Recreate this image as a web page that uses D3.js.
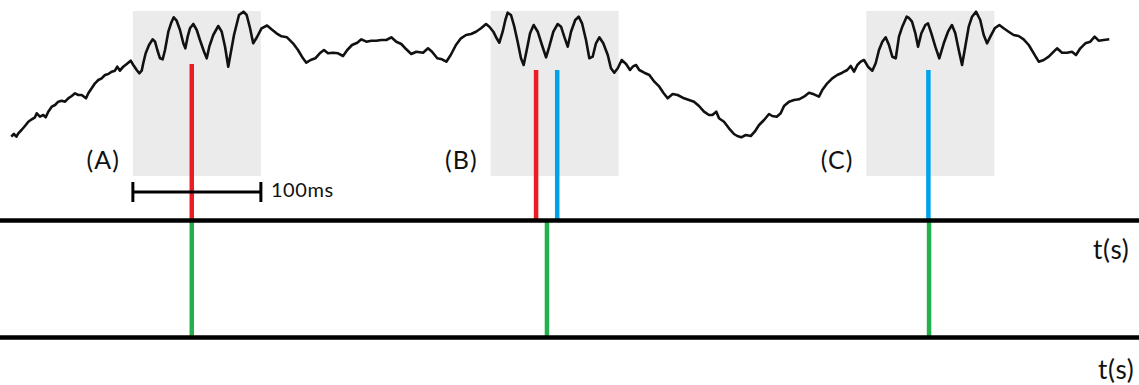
<!DOCTYPE html>
<html>
<head>
<meta charset="utf-8">
<script src="https://cdn.jsdelivr.net/npm/d3@7"></script>
<style>
  body { margin: 0; background: #fff; }
  svg { display: block; }
  text { font-family: Lato, "Open Sans", sans-serif; fill: #111; }
</style>
</head>
<body>
<div id="chart"></div>
<script>
// signal trace: time (ms) and amplitude (arbitrary units)
const times = [1, 3, 5, 6.5, 9, 11.7, 14.3, 17, 19.5, 20.9, 23.4, 26, 27.9, 29.9, 32.6, 35.2, 37.7, 40.4, 43, 45.5,
  48.2, 50.8, 53.4, 56, 59.4, 61.2, 63.8, 66.4, 69, 71.6, 74.2, 76.8, 79.5, 82, 83.8, 85.9, 88.5, 91.2, 94.3, 96.3,
  99, 101, 102.9, 104.1, 106, 108.6, 111.5, 113.3, 115.1, 117.2, 119.3, 121.1, 123.7, 125.8, 127.9, 130.2, 132.8, 135.4, 137, 138.8,
  140.6, 143.2, 145.9, 148.4, 151.6, 153.7, 155.7, 158.8, 162.7, 165.4, 168, 170.5, 175, 178.9, 182.4, 184.9, 187.5, 190, 192.8, 196.5,
  200.8, 204.3, 208.2, 212.1, 216.4, 221.1, 225, 228.9, 231.5, 234.9, 238.5, 242, 245.3, 248.4, 252.3, 256.3, 260.2, 263.5, 267.2, 271.3,
  274.5, 278.4, 282.3, 286.2, 290.1, 294, 297.9, 301.8, 305.7, 309.6, 313.5, 317.4, 322.7, 326.6, 329.7, 333.8, 337.5, 340.9, 344.3, 348.4,
  352.3, 356.3, 360.2, 364.1, 368, 371.9, 374.5, 377.6, 380.2, 382.3, 384.9, 387, 388.8, 391.4, 394, 396.6, 399.2, 401.3, 403.7, 406.3,
  409.1, 412.3, 415.6, 418.8, 421.3, 424.5, 427.9, 430.5, 433, 435.7, 438.3, 441.6, 444.3, 446.9, 450, 452.6, 455.2, 457.8, 460.4, 463.5,
  467, 469.5, 472.1, 474.8, 477.9, 481.3, 484.4, 486.5, 489.1, 491.6, 495.5, 499.5, 503.4, 507.3, 510.4, 513.8, 517.7, 521.6, 526.6, 530.5,
  534.4, 538.3, 542.2, 546.1, 548.7, 551.8, 553.9, 557.8, 561.7, 565.6, 568.2, 571.3, 574.8, 578.7, 581.8, 585.2, 589.1, 593, 595.5, 599,
  602.1, 604.7, 608.6, 612.5, 616.4, 620.3, 624.2, 628.1, 632, 634.6, 638.5, 642.4, 646.3, 650.2, 654.1, 656.8, 659.4, 662, 664.6, 667.2,
  670.3, 673.7, 676.3, 678.9, 681.5, 684.1, 686.7, 689.3, 692, 694.5, 697.1, 700.5, 702.3, 704.7, 707.3, 709.4, 712, 715.1, 717.2, 719.8,
  722.9, 726, 729.5, 732.8, 735.9, 738.5, 741.2, 743.8, 746.3, 749, 751.6, 754.7, 758, 760.7, 763.3, 765.9, 769.3, 772.9, 776.3, 780.2,
  784.1, 788, 791.9, 795.9, 799.8, 803.7, 807.6, 811.5, 815.4, 818, 821.9, 825.8, 829.7, 832.8, 836.2, 840.1, 844, 847.4, 850.5, 854.5, 858.8];
const amps = [13.3, 16, 13.3, 16.7, 20, 24, 28.3, 30.7, 32.7, 36.7, 33.3, 35, 32.7, 38.3, 43.3, 45, 48.3, 49.3, 48.3, 51.7,
  54, 56.7, 55, 55, 51.7, 56.7, 61.7, 66.7, 70, 71.7, 75, 76, 78.3, 79.3, 83.3, 79.3, 83.3, 86, 89.3, 85,
  80, 76.7, 79.3, 86.7, 96.7, 105, 110.7, 108.3, 100, 91.7, 90.7, 100, 118.3, 126.7, 132.7, 129.3, 120, 106.7, 101.7, 113.3,
  121.7, 126, 120, 110, 98.3, 91.7, 103.3, 115, 124, 118.3, 103.3, 83.3, 115, 135, 138.3, 135, 122, 106.7, 112.5, 121.7,
  124.5, 120.7, 116.7, 113.7, 112.7, 106.7, 100, 91.7, 87.3, 90, 91.7, 96.7, 100, 96.7, 97.3, 96.7, 94, 100, 105, 107.3,
  110.7, 108.3, 109.3, 109.3, 110, 110, 112.7, 108.3, 106, 100.7, 96, 98.3, 97.3, 101.7, 98.3, 91.7, 90.7, 88.3, 95, 105,
  111.7, 115, 116, 118.3, 121.7, 126, 123.3, 118.3, 111.7, 107.3, 118.3, 130, 137.3, 135, 123.3, 108.3, 91.7, 85, 100, 116.7,
  125, 118.3, 105, 92.7, 103.3, 118.3, 126, 123.3, 113.3, 103.3, 118.3, 130, 133.3, 126.7, 110, 91.7, 93.3, 106.7, 112.7, 106.7,
  95, 81.7, 77.3, 81.7, 90, 86, 80, 83.3, 85, 80, 77.3, 75, 68.3, 63.3, 57.3, 51.7, 56, 55, 51.7, 50,
  48.3, 44, 38.3, 35, 35, 38.3, 31.7, 28.3, 21.7, 16, 14, 12.7, 15, 14, 18.3, 25, 30, 36, 34, 33.3,
  36.7, 44, 48.3, 50, 50.7, 53.3, 57.3, 55.7, 53.3, 60, 66.7, 71.7, 75, 77.3, 80, 84, 78.3, 85, 88.3, 90,
  83.3, 79.3, 86.7, 100, 108.3, 112.7, 105, 93.3, 91.7, 113.3, 123.3, 133.3, 132, 128.3, 116.7, 103.3, 116.7, 125, 126.7, 116.7,
  103.3, 91.7, 106.7, 118.3, 125, 116.7, 100, 85, 103.3, 123.3, 133.3, 138.3, 130, 115, 106.7, 113.3, 121.7, 125, 121.7, 118.3,
  115, 114, 110.7, 105, 96.7, 88.3, 90, 93.3, 98.3, 101.7, 97.3, 97.3, 98.3, 95, 101.7, 106.7, 108.3, 113.3, 109.3, 110, 110.7];

// analysis windows (ms) and their labels
const windowStarts = [96, 375.5, 669];
const windowLength = 100;
const windowLabels = ["(A)", "(B)", "(C)"];

// event times (ms)
const redTimes = [142, 411];
const blueTimes = [427.5, 717.5];
const greenTimes = [142, 419.5, 718];

const timeLabel = "t(s)";
const scaleBarLabel = "100ms";

var width = 1139, height = 385;
// layout (pixels)
var boxTop = 11, boxBottom = 176,
  line1 = 220.5, line2 = 337.5,
  barY = 192;

var x = d3.scaleLinear().domain([0, 860]).range([10, 1110.8]);
var y = d3.scaleLinear().domain([0, 140]).range([150, 10]);

const svg = d3.select("#chart")
  .append("svg")
  .attr("width", width)
  .attr("height", height)
  .style("background", "#fff");

// grey windows
svg.selectAll("rect.win")
  .data(windowStarts)
  .enter()
  .append("rect")
  .attr("class", "win")
  .attr("x", d => x(d))
  .attr("y", boxTop)
  .attr("width", d => x(d + windowLength) - x(d))
  .attr("height", boxBottom - boxTop)
  .style("fill", "#ebebeb");

svg.selectAll("text.win")
  .data(windowStarts)
  .enter()
  .append("text")
  .attr("class", "win")
  .attr("x", d => x(d) - 13)
  .attr("y", 169)
  .attr("text-anchor", "end")
  .style("font-size", "25px")
  .style("letter-spacing", "1px")
  .text((d, i) => windowLabels[i]);

// trace
const pts = times.map((t, i) => [t, amps[i]]);
svg.append("path")
  .datum(pts)
  .attr("d", d3.line().x(d => x(d[0])).y(d => y(d[1])))
  .style("fill", "none")
  .style("stroke", "#111")
  .style("stroke-width", 2.6)
  .style("stroke-linejoin", "round");

// which window an event falls in -> top of its marker
function markerTop(t) {
  return t < windowStarts[1] ? 64 : 70;
}

function drawMarks(data, color, top, bottom) {
  svg.append("g")
    .selectAll("line")
    .data(data)
    .enter()
    .append("line")
    .attr("x1", d => x(d))
    .attr("x2", d => x(d))
    .attr("y1", top)
    .attr("y2", bottom)
    .style("stroke", color)
    .style("stroke-width", 4.5);
}
drawMarks(redTimes, "#ed1c24", markerTop, line1);
drawMarks(blueTimes, "#00a2e8", markerTop, line1);
drawMarks(greenTimes, "#22b14c", line1, line2);

// time lines
svg.selectAll("line.axis")
  .data([line1, line2])
  .enter()
  .append("line")
  .attr("class", "axis")
  .attr("x1", 0)
  .attr("x2", width)
  .attr("y1", d => d)
  .attr("y2", d => d)
  .style("stroke", "#000")
  .style("stroke-width", 4.5);

svg.selectAll("text.t")
  .data([[1093, 259], [1098, 379]])
  .enter()
  .append("text")
  .attr("class", "t")
  .attr("x", d => d[0])
  .attr("y", d => d[1])
  .style("font-size", "26px")
  .style("letter-spacing", "0.8px")
  .text(timeLabel);

// 100 ms scale bar
var b0 = x(windowStarts[0]), b1 = x(windowStarts[0] + windowLength);
const bar = svg.append("g").style("stroke", "#000").style("stroke-width", 3);
bar.append("line").attr("x1", b0).attr("x2", b1).attr("y1", barY).attr("y2", barY);
bar.append("line").attr("x1", b0).attr("x2", b0).attr("y1", barY - 10).attr("y2", barY + 10);
bar.append("line").attr("x1", b1).attr("x2", b1).attr("y1", barY - 10).attr("y2", barY + 10);
svg.append("text")
  .attr("x", b1 + 10)
  .attr("y", 197)
  .style("font-size", "20px")
  .style("letter-spacing", "0.6px")
  .text(scaleBarLabel);
</script>
</body>
</html>
